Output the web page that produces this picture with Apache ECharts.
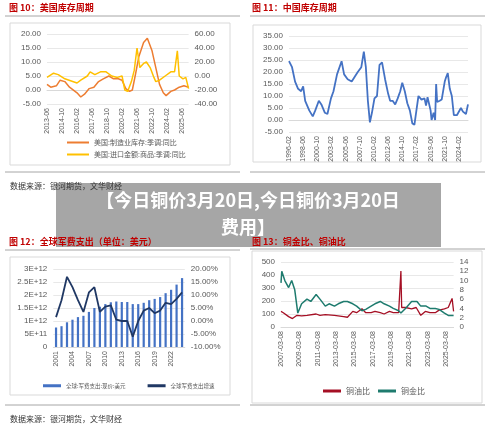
<!DOCTYPE html>
<html><head><meta charset="utf-8">
<script src="https://cdn.jsdelivr.net/npm/echarts@6/dist/echarts.min.js"></script>
<style>html,body{margin:0;padding:0;background:#fff}#c{width:500px;height:431px}</style>
</head><body><div id="c"></div>
<script>
// ---- data ----
var usStart = "2013-06";
var usMfgInv = [["2013-06",2],["2013-10",1],["2014-04",1.5],["2014-08",3.5],["2015-01",3],["2015-06",1],["2016-02",-1],["2016-06",-2.5],["2016-10",-1.5],["2017-03",0.5],["2017-08",1],["2018-01",3],["2018-06",4],["2018-12",5],["2019-05",4],["2019-10",4],["2020-02",3.5],["2020-06",0.5],["2020-10",-0.5],["2021-01",0],["2021-04",5],["2021-08",12],["2022-01",17],["2022-05",18.5],["2022-10",14],["2023-02",8],["2023-06",2],["2023-10",-1],["2024-01",-2],["2024-06",-0.5],["2024-10",0],["2025-03",1],["2025-08",1.5],["2026-01",1]];
var usImport = [["2013-06",-2],["2014-01",4],["2014-06",2],["2015-01",-4],["2016-02",-10],["2016-06",-6],["2017-01",0],["2017-04",6],["2017-09",2],["2018-03",6],["2018-09",6],["2019-03",0],["2019-09",-2],["2020-02",0],["2020-05",-20],["2020-08",-22],["2020-12",-8],["2021-03",8],["2021-06",40],["2021-09",12],["2022-01",18],["2022-04",20],["2022-08",12],["2022-12",-2],["2023-02",-8],["2023-06",-6],["2023-12",0],["2024-06",6],["2024-10",6],["2025-01",36],["2025-03",0],["2025-07",-4],["2025-10",-2],["2026-01",-18]];
var cnStart = "1996-02";
var cnInv = [["1996-02",24.5],["1996-08",22],["1997-02",16],["1997-08",13],["1998-02",12],["1998-06",14],["1998-10",8],["1999-02",6],["1999-06",4],["2000-01",1.5],["2000-06",4],["2001-01",8],["2001-06",6.5],["2002-01",3],["2002-06",2.5],["2003-01",9],["2003-06",12],["2004-01",19],["2004-10",24.5],["2005-03",19],["2005-10",17],["2006-06",16],["2006-12",18],["2007-06",20],["2008-01",22],["2008-06",28.5],["2008-10",22],["2009-02",8],["2009-06",-1],["2009-10",3],["2010-03",9],["2010-08",10],["2011-01",23],["2011-06",24],["2011-12",17],["2012-06",11],["2012-10",8],["2013-03",8],["2013-08",6.5],["2014-01",9],["2014-06",12],["2014-10",15.5],["2015-03",12],["2015-08",7],["2016-01",4],["2016-06",-1.5],["2016-10",-2],["2017-02",4],["2017-06",10],["2017-12",8.5],["2018-06",9],["2018-09",6],["2018-12",9.5],["2019-06",4],["2019-08",0],["2019-12",3],["2020-03",0],["2020-05",15],["2020-07",7.5],["2020-12",8],["2021-04",8.5],["2021-10",16],["2022-01",18],["2022-04",19.5],["2022-08",13],["2022-12",10],["2023-04",2],["2023-10",2],["2024-06",5],["2024-10",3.5],["2025-01",3.5],["2025-04",2.5],["2025-08",6.5]];
var milYears = ["2001","2002","2003","2004","2005","2006","2007","2008","2009","2010","2011","2012","2013","2014","2015","2016","2017","2018","2019","2020","2021","2022","2023","2024"];
var milSpend = [0.75,0.8,0.95,1.05,1.15,1.2,1.35,1.5,1.55,1.65,1.72,1.75,1.73,1.73,1.65,1.65,1.7,1.8,1.85,1.92,2.07,2.2,2.4,2.65]; // trillion USD
var milGrowth = [1.5,8,17,13,8,3.5,11,13,3.5,5.5,6,0.5,0,0,-6,0,4,5,3,4,7,6.5,8.5,11];
var cuStart = "2007-03";
var cuOil = [["2007-03",120],["2007-06",110],["2008-01",80],["2008-06",65],["2008-12",90],["2009-06",85],["2010-01",90],["2011-01",100],["2011-06",90],["2012-01",95],["2013-01",90],["2014-01",80],["2014-06",75],["2015-01",120],["2015-06",110],["2016-01",140],["2016-06",110],["2017-01",110],["2017-06",120],["2018-01",110],["2018-06",100],["2019-01",120],["2019-06",110],["2020-01",110],["2020-04",430],["2020-05",150],["2020-10",150],["2021-06",140],["2021-12",150],["2022-06",90],["2022-12",120],["2023-06",110],["2024-01",110],["2024-06",130],["2025-01",140],["2025-06",150],["2025-11",220],["2026-01",120]];
var cuGold = [["2007-03",9.5],["2007-04",12],["2007-08",10],["2008-01",8.5],["2008-05",10],["2008-09",8],["2009-01",3],["2009-06",5],["2010-01",6],["2010-06",5.5],["2011-01",7],["2011-06",6],["2012-01",4.5],["2012-06",5],["2013-01",4.5],["2013-06",5],["2014-01",5.5],["2014-06",5.5],["2015-01",5],["2015-06",4.5],["2016-01",3.5],["2016-06",3.8],["2017-01",4.5],["2017-06",5],["2018-01",5.5],["2018-06",5],["2019-01",4.5],["2019-06",4],["2020-01",3.5],["2020-04",3],["2020-10",4],["2021-06",5.5],["2022-01",5.5],["2022-06",4.5],["2023-01",4.5],["2023-06",4],["2024-01",4],["2024-06",3.8],["2025-01",3],["2025-06",2.5],["2026-01",2.5]];

// ---- helpers ----
function mi(s){var p=s.split("-");return (+p[0])*12+(+p[1])-1;}
function rel(arr,start){var b=mi(start);return arr.map(function(d){return [mi(d[0])-b,d[1]];});}
function lab(start,suffix){var b=mi(start);return function(v){var m=b+v;var y=Math.floor(m/12),mm=m%12+1;return y+"-"+(mm<10?"0":"")+mm+(suffix||"");};}
var F="'Liberation Sans', Arial, sans-serif", G="#595959", GL="#d9d9d9";
function yAx(gi,min,max,iv,fmt,showSplit){return {type:'value',gridIndex:gi,min:min,max:max,interval:iv,axisLine:{show:false},axisTick:{show:false},
 splitLine:{show:showSplit,lineStyle:{color:GL,width:0.6}},axisLabel:{color:G,fontSize:8,fontFamily:F,margin:6,formatter:fmt}};}
function xAx(gi,max,iv,fmt){return {type:'value',gridIndex:gi,min:0,max:max,interval:iv,axisLine:{lineStyle:{color:GL}},axisTick:{show:false},splitLine:{show:false},
 axisLabel:{rotate:90,color:G,fontSize:7,fontFamily:F,margin:4,formatter:function(v){return v>max-3&&v%iv!==0?'':fmt(v);},showMaxLabel:false}};}
var f2=function(v){return v.toFixed(2);};
var sciFmt=function(v){if(v===0)return '0';var e=Math.floor(Math.log10(v));var m=v/Math.pow(10,e);return (Math.round(m*10)/10)+"E+"+e;};

var chart=echarts.init(document.getElementById('c'),null,{renderer:'canvas'});
function box(x,y,w,h){return {type:'rect',shape:{x:x,y:y,width:w,height:h},style:{fill:'none',stroke:'#d9d9d9',lineWidth:1},silent:true};}
function hl(x1,x2,y){return {type:'line',shape:{x1:x1,y1:y,x2:x2,y2:y},style:{stroke:'#a6a6a6',lineWidth:1},silent:true};}
function title(x,y,t){return {type:'text',z:102,x:x,y:y,style:{text:t,fill:'#c00000',font:'bold 9px "Noto Sans CJK SC", sans-serif'},silent:true};}
function src(x,y){return {type:'text',z:102,x:x,y:y,style:{text:'数据来源：银河期货，文华财经',fill:'#333',font:'8px "Noto Sans CJK SC", serif'},silent:true};}

chart.setOption({
 animation:false,
 grid:[{left:47,top:34,width:141.6,height:70},{left:289,top:36,width:179,height:96},{left:53.3,top:269,width:131.5,height:78},{left:281,top:262,width:172.6,height:65}],
 xAxis:[xAx(0,151,16,lab(usStart)),xAx(1,354,28,lab(cnStart)),
  {type:'category',gridIndex:2,data:milYears,axisLine:{lineStyle:{color:GL}},axisTick:{show:false},axisLabel:{rotate:90,interval:2,color:G,fontSize:7,fontFamily:F,margin:4}},
  xAx(3,226,24,lab(cuStart,"-08"))],
 yAxis:[yAx(0,-5,20,5,f2,true),yAx(0,-40,60,20,f2,false),yAx(1,-5,35,5,f2,true),
  yAx(2,0,3,0.5,function(v){return sciFmt(v*1e12);},true),yAx(2,-10,20,5,function(v){return v.toFixed(2)+'%';},false),
  yAx(3,0,500,100,null,true),yAx(3,0,14,2,null,false)],
 legend:[
  {left:62,top:134,orient:'vertical',itemGap:5,itemWidth:22,itemHeight:2,icon:'rect',textStyle:{fontSize:7,color:G,fontFamily:'"Noto Sans CJK SC", serif'},data:['美国:制造业库存:季调:同比','美国:进口金额:商品:季调:同比']},
  {left:38,top:378,itemGap:22,itemWidth:18,itemHeight:3,icon:'rect',textStyle:{fontSize:5.5,color:G,fontFamily:'"Noto Sans CJK SC", serif'},data:['全球:军费支出:现价:美元','全球军费支出增速']},
  {left:318,top:382,itemGap:8,itemWidth:18,itemHeight:3,icon:'rect',textStyle:{fontSize:8,color:G,fontFamily:'"Noto Sans CJK SC", serif'},data:['铜油比','铜金比']}],
 series:[
  {name:'美国:制造业库存:季调:同比',type:'line',xAxisIndex:0,yAxisIndex:0,data:rel(usMfgInv,usStart),showSymbol:false,lineStyle:{color:'#ed7d31',width:1.5},itemStyle:{color:'#ed7d31'}},
  {name:'美国:进口金额:商品:季调:同比',type:'line',xAxisIndex:0,yAxisIndex:1,data:rel(usImport,usStart),showSymbol:false,lineStyle:{color:'#ffc000',width:1.5},itemStyle:{color:'#ffc000'}},
  {name:'中国',type:'line',xAxisIndex:1,yAxisIndex:2,data:rel(cnInv,cnStart),showSymbol:false,lineStyle:{color:'#4472c4',width:1.8},itemStyle:{color:'#4472c4'}},
  {name:'全球:军费支出:现价:美元',type:'bar',xAxisIndex:2,yAxisIndex:3,data:milSpend,barWidth:2.2,itemStyle:{color:'#4472c4'}},
  {name:'全球军费支出增速',type:'line',xAxisIndex:2,yAxisIndex:4,data:milGrowth,showSymbol:false,lineStyle:{color:'#203864',width:1.8},itemStyle:{color:'#203864'}},
  {name:'铜油比',type:'line',xAxisIndex:3,yAxisIndex:5,data:rel(cuOil,cuStart),showSymbol:false,lineStyle:{color:'#a50f24',width:1.3},itemStyle:{color:'#a50f24'}},
  {name:'铜金比',type:'line',xAxisIndex:3,yAxisIndex:6,data:rel(cuGold,cuStart),showSymbol:false,lineStyle:{color:'#1e7b6e',width:1.5},itemStyle:{color:'#1e7b6e'}}],
 graphic:[
  title(9,3,'图 10：美国库存周期'),hl(5,240,16),box(10,23,220,142),hl(5,240,172),src(10,182),
  title(252,3,'图 11：中国库存周期'),hl(250,485,16),box(253,25,228,137),hl(250,485,172),
  title(9,237,'图 12：全球军费支出（单位：美元）'),hl(5,240,250),box(10,257,220,138),hl(5,240,405),src(10,415),
  title(252,237,'图 13：铜金比、铜油比'),hl(250,485,249),box(252,251,230,152),hl(250,485,405),
  {type:'rect',z:100,shape:{x:56,y:183,width:385,height:64},style:{fill:'#a6a6a6'},silent:true},
  {type:'text',z:101,x:248,y:200,style:{text:'【今日铜价3月20日,今日铜价3月20日',fill:'#fff',font:'bold 18px "Noto Sans CJK SC", sans-serif',align:'center',verticalAlign:'middle'}},
  {type:'text',z:101,x:248,y:227,style:{text:'费用】',fill:'#fff',font:'bold 18px "Noto Sans CJK SC", sans-serif',align:'center',verticalAlign:'middle'}}]
});
</script></body></html>
